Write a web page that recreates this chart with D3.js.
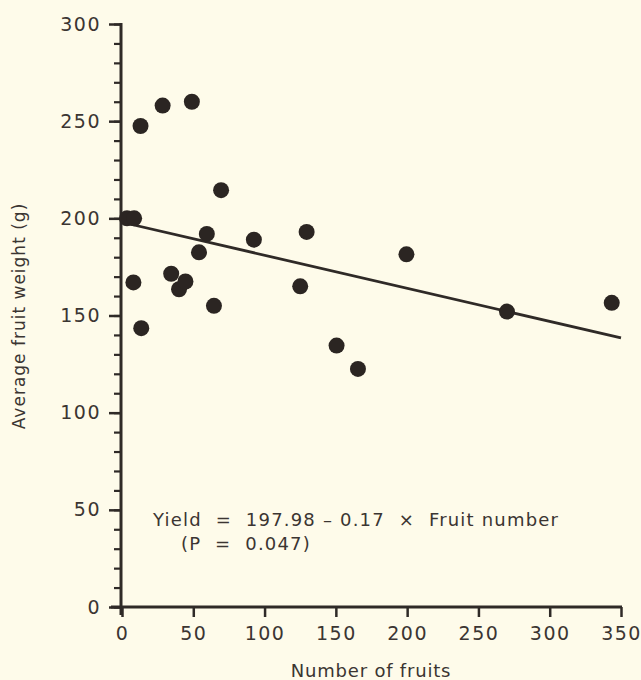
<!DOCTYPE html>
<html>
<head>
<meta charset="utf-8">
<script src="https://cdn.jsdelivr.net/npm/d3@7"></script>
<style>
  body { margin: 0; background: #fefbea; }
  svg text { font-family: "DejaVu Sans", "Liberation Sans", sans-serif; fill: #3b3532; }
</style>
</head>
<body>
<div id="chart"></div>
<script>
// fruit number vs average fruit weight
var fruitNumber = [3.5, 8.5, 13, 28.5, 49, 69.5, 59.5, 54, 92.5, 129.5, 34.5, 40, 44.5, 8, 64.5, 125, 13.5, 199.5, 270, 343.5, 150.5, 165.5];
var fruitWeight = [200, 200, 247.5, 258, 260, 214.5, 192, 182.5, 189, 193, 171.5, 163.5, 167.5, 167, 155, 165, 143.5, 181.5, 152, 156.5, 134.5, 122.5];

var xTicks = [0, 50, 100, 150, 200, 250, 300, 350];
var yTicks = [0, 50, 100, 150, 200, 250, 300];
var yMinorTicks = d3.range(0, 301, 10);

var intercept = 197.98;
var slope = -0.17;
var lineRange = [0, 350];

var equationText = "Yield  =  197.98 \u2013 0.17  \u00d7  Fruit number";
var pText = "(P  =  0.047)";

var width = 641, height = 680;
var margin = { top: 24, right: 20, bottom: 73, left: 122 };

var svg = d3.select("#chart").append("svg")
	.attr("width", width).attr("height", height);

svg.append("rect").attr("width", width).attr("height", height).attr("fill", "#fefbea");

var xScale = d3.scaleLinear().domain([0, 350]).range([margin.left, 621]);
var yScale = d3.scaleLinear().domain([0, 300]).range([607, margin.top]);

var ink = "#2f2a27";

// y axis
var yAxis = d3.axisLeft(yScale).tickValues(yTicks).tickSize(12).tickPadding(8);
var gy = svg.append("g").attr("transform", "translate(" + (margin.left - 1) + ",0)").call(yAxis);
gy.select(".domain").remove();
gy.selectAll(".tick line").attr("stroke", ink).attr("stroke-width", 2.5);
gy.selectAll(".tick text").attr("font-size", 19).attr("letter-spacing", 1.5)
	.style("font-family", "DejaVu Sans").style("fill", "#3b3532");

var gyMinor = svg.append("g").attr("transform", "translate(" + (margin.left - 1) + ",0)")
	.call(d3.axisLeft(yScale).tickValues(yMinorTicks).tickSize(7).tickFormat(""));
gyMinor.select(".domain").remove();
gyMinor.selectAll(".tick line").attr("stroke", ink).attr("stroke-width", 2.2);

svg.append("line")
	.attr("x1", margin.left - 1).attr("x2", margin.left - 1)
	.attr("y1", yScale(300) - 1).attr("y2", yScale(0) + 8)
	.attr("stroke", ink).attr("stroke-width", 3);

// x axis
var xAxis = d3.axisBottom(xScale).tickValues(xTicks).tickSize(10).tickPadding(10);
var gx = svg.append("g").attr("transform", "translate(0," + yScale(0) + ")").call(xAxis);
gx.select(".domain").remove();
gx.selectAll(".tick line").attr("stroke", ink).attr("stroke-width", 2.5);
gx.selectAll(".tick text").attr("font-size", 19).attr("letter-spacing", 1.5)
	.style("font-family", "DejaVu Sans").style("fill", "#3b3532");

svg.append("line")
	.attr("x1", margin.left - 11).attr("x2", xScale(350) + 1)
	.attr("y1", yScale(0)).attr("y2", yScale(0))
	.attr("stroke", ink).attr("stroke-width", 3);

// regression line
svg.append("line")
	.attr("x1", xScale(lineRange[0])).attr("y1", yScale(intercept + slope * lineRange[0]))
	.attr("x2", xScale(lineRange[1])).attr("y2", yScale(intercept + slope * lineRange[1]))
	.attr("stroke", ink).attr("stroke-width", 2.8);

// points
svg.selectAll(".pt")
	.data(d3.zip(fruitNumber, fruitWeight))
	.enter()
	.append("circle")
	.attr("class", "pt")
	.attr("cx", function(d) { return xScale(d[0]); })
	.attr("cy", function(d) { return yScale(d[1]); })
	.attr("r", 8)
	.attr("fill", "#2b2522");

// equation
svg.append("text")
	.attr("x", 153).attr("y", 526)
	.attr("font-size", 18).attr("letter-spacing", 1.2)
	.style("white-space", "pre")
	.text(equationText);
svg.append("text")
	.attr("x", 181).attr("y", 550)
	.attr("font-size", 18).attr("letter-spacing", 1.2)
	.style("white-space", "pre")
	.text(pText);

// axis labels
svg.append("text")
	.attr("transform", "translate(25,316) rotate(-90)")
	.attr("text-anchor", "middle")
	.attr("font-size", 17).attr("letter-spacing", 1)
	.text("Average fruit weight (g)");

svg.append("text")
	.attr("x", 371).attr("y", 677)
	.attr("text-anchor", "middle")
	.attr("font-size", 18).attr("letter-spacing", 0.8)
	.text("Number of fruits");
</script>
</body>
</html>
